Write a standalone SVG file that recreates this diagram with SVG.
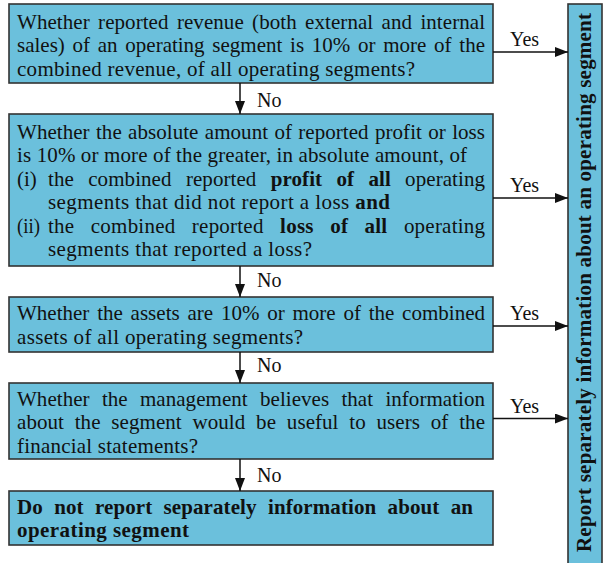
<svg xmlns="http://www.w3.org/2000/svg" width="605" height="563" viewBox="0 0 605 563">
<style>
.box{fill:#6bc0dc;stroke:#333;stroke-width:1.6}
.t{font-family:"Liberation Serif",serif;font-size:21px;fill:#111}
.b{font-weight:bold}
.lbl{font-family:"Liberation Serif",serif;font-size:20px;fill:#111}
.c{stroke:#111;stroke-width:1.5;fill:none;marker-end:url(#ah)}
</style>
<defs>
<marker id="ah" markerUnits="userSpaceOnUse" markerWidth="14" markerHeight="11" refX="13" refY="5" orient="auto">
<path d="M0,0 L13,5 L0,10 z" fill="#111"/>
</marker>
</defs>
<rect width="605" height="563" fill="#fff"/>

<g id="q1">
<rect class="box" x="9" y="4" width="484" height="79"/>
<text class="t" x="17" y="28.5" textLength="468" lengthAdjust="spacing" word-spacing="3">Whether reported revenue (both external and internal</text>
<text class="t" x="17" y="52" textLength="468" lengthAdjust="spacing" word-spacing="2.5">sales) of an operating segment is 10% or more of the</text>
<text class="t" x="17" y="75.5" textLength="398" lengthAdjust="spacing">combined revenue, of all operating segments?</text>
</g>

<g id="q2">
<rect class="box" x="9" y="114" width="484" height="152"/>
<text class="t" x="17" y="138.5" textLength="468" lengthAdjust="spacing" word-spacing="1">Whether the absolute amount of reported profit or loss</text>
<text class="t" x="17" y="162" textLength="450" lengthAdjust="spacing">is 10% or more of the greater, in absolute amount, of</text>
<text class="t" x="17" y="185.5">(i)</text>
<text class="t" x="48" y="185.5" textLength="437" lengthAdjust="spacing" word-spacing="9">the combined reported <tspan class="b">profit of all</tspan> operating</text>
<text class="t" x="48" y="209" textLength="342" lengthAdjust="spacing">segments that did not report a loss <tspan class="b">and</tspan></text>
<text class="t" x="17" y="232.5" textLength="23" lengthAdjust="spacingAndGlyphs">(ii)</text>
<text class="t" x="48" y="232.5" textLength="437" lengthAdjust="spacing" word-spacing="11">the combined reported <tspan class="b">loss of all</tspan> operating</text>
<text class="t" x="48" y="256" textLength="264" lengthAdjust="spacing">segments that reported a loss?</text>
</g>

<g id="q3">
<rect class="box" x="9" y="297" width="484" height="55"/>
<text class="t" x="17" y="320" textLength="468" lengthAdjust="spacing" word-spacing="2.5">Whether the assets are 10% or more of the combined</text>
<text class="t" x="17" y="343.5" textLength="286" lengthAdjust="spacing">assets of all operating segments?</text>
</g>

<g id="q4">
<rect class="box" x="9" y="383" width="484" height="76"/>
<text class="t" x="17" y="405.5" textLength="468" lengthAdjust="spacing" word-spacing="7">Whether the management believes that information</text>
<text class="t" x="17" y="429" textLength="468" lengthAdjust="spacing" word-spacing="5.5">about the segment would be useful to users of the</text>
<text class="t" x="17" y="452.5" textLength="181" lengthAdjust="spacing">financial statements?</text>
</g>

<g id="no-report">
<rect class="box" x="9" y="491" width="484" height="54"/>
<text class="t b" x="17" y="513.5" textLength="456" lengthAdjust="spacing" word-spacing="6">Do not report separately information about an</text>
<text class="t b" x="17" y="537" textLength="172" lengthAdjust="spacing">operating segment</text>
</g>

<g id="report">
<rect class="box" x="568" y="4" width="34" height="560"/>
<text class="t b" transform="translate(591,552) rotate(-90)" x="0" y="0" textLength="539" lengthAdjust="spacing">Report separately information about an operating segment</text>
</g>

<g id="connectors">
<line class="c" x1="240" y1="83" x2="240" y2="114"/>
<line class="c" x1="240" y1="266" x2="240" y2="297"/>
<line class="c" x1="240" y1="352" x2="240" y2="383"/>
<line class="c" x1="240" y1="459" x2="240" y2="491"/>
<line class="c" x1="493" y1="52" x2="568" y2="52"/>
<line class="c" x1="493" y1="198" x2="568" y2="198"/>
<line class="c" x1="493" y1="326" x2="568" y2="326"/>
<line class="c" x1="493" y1="418.5" x2="568" y2="418.5"/>
<text class="lbl" x="257" y="106.5">No</text>
<text class="lbl" x="257" y="287">No</text>
<text class="lbl" x="257" y="372">No</text>
<text class="lbl" x="257" y="482">No</text>
<text class="lbl" x="510" y="45.5">Yes</text>
<text class="lbl" x="510" y="192">Yes</text>
<text class="lbl" x="510" y="320">Yes</text>
<text class="lbl" x="510" y="413">Yes</text>
</g>
</svg>
